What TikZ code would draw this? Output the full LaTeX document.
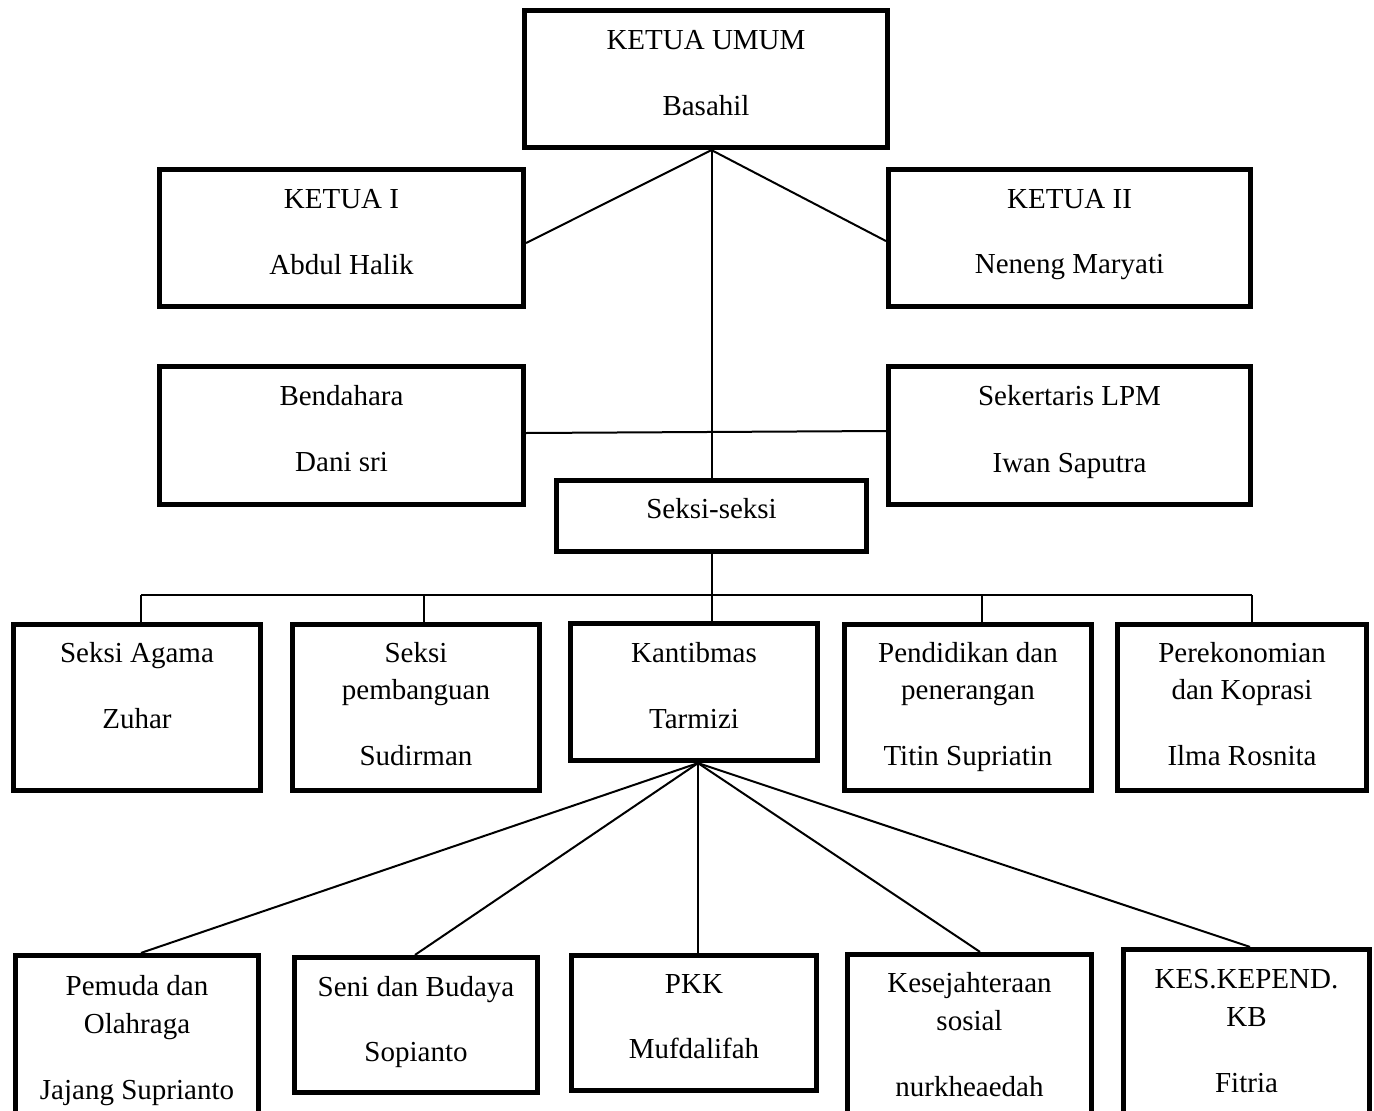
\documentclass[tikz,border=0pt]{standalone}
\usepackage{fontspec}
\setmainfont{Liberation Serif}
\begin{document}
\begin{tikzpicture}[x=1pt,y=-1pt,
  box/.style={draw, line width=5.2pt, inner sep=0pt, rectangle},
  conn/.style={draw, line width=2pt},
  txt/.style={anchor=base, inner sep=0pt, font=\fontsize{29}{35}\selectfont}]
\clip (0,0) rectangle (1374,1111);
\fill[white] (0,0) rectangle (1374,1111);
% boxes
\node[box, minimum width=363pt, minimum height=137pt] (ku) at (706,79) {};
\node[box, minimum width=364pt, minimum height=137pt] (k1) at (341.5,238) {};
\node[box, minimum width=362pt, minimum height=137pt] (k2) at (1069.5,238) {};
\node[box, minimum width=364pt, minimum height=138pt] (ben) at (341.5,435.5) {};
\node[box, minimum width=362pt, minimum height=138pt] (sekr) at (1069.5,435.5) {};
\node[box, minimum width=310pt, minimum height=71pt] (sek) at (711.5,516) {};
\node[box, minimum width=247pt, minimum height=166pt] (agama) at (137,707.5) {};
\node[box, minimum width=247pt, minimum height=166pt] (peb) at (416,707.5) {};
\node[box, minimum width=247pt, minimum height=137pt] (kan) at (694,692) {};
\node[box, minimum width=247pt, minimum height=166pt] (pend) at (968,707.5) {};
\node[box, minimum width=249pt, minimum height=166pt] (perek) at (1242,707.5) {};
\node[box, minimum width=243pt, minimum height=172pt] (pem) at (137,1041.5) {};
\node[box, minimum width=243pt, minimum height=135pt] (seni) at (416,1025) {};
\node[box, minimum width=245pt, minimum height=135pt] (pkk) at (694,1023) {};
\node[box, minimum width=244pt, minimum height=173pt] (kes) at (969.5,1041) {};
\node[box, minimum width=246pt, minimum height=178pt] (kb) at (1246.5,1038.5) {};
% texts
\node[txt] (ku1) at (706,49) {KETUA UMUM};
\node[txt] (ku2) at (706,115) {Basahil};
\node[txt] (k11) at (341.5,208) {KETUA I};
\node[txt] (k12) at (341.5,274) {Abdul Halik};
\node[txt] (k21) at (1069.5,208) {KETUA II};
\node[txt] (k22) at (1069.5,273) {Neneng Maryati};
\node[txt] (ben1) at (341.5,405) {Bendahara};
\node[txt] (ben2) at (341.5,471) {Dani sri};
\node[txt] (sekr1) at (1069.5,405) {Sekertaris LPM};
\node[txt] (sekr2) at (1069.5,472) {Iwan Saputra};
\node[txt] (sek1) at (711.5,518) {Seksi-seksi};
\node[txt] (ag1) at (137,662) {Seksi Agama};
\node[txt] (ag2) at (137,728) {Zuhar};
\node[txt] (pb1) at (416,662) {Seksi};
\node[txt] (pb2) at (416,699) {pembanguan};
\node[txt] (pb3) at (416,765) {Sudirman};
\node[txt] (kn1) at (694,662) {Kantibmas};
\node[txt] (kn2) at (694,728) {Tarmizi};
\node[txt] (pd1) at (968,662) {Pendidikan dan};
\node[txt] (pd2) at (968,699) {penerangan};
\node[txt] (pd3) at (968,765) {Titin Supriatin};
\node[txt] (pr1) at (1242,662) {Perekonomian};
\node[txt] (pr2) at (1242,699) {dan Koprasi};
\node[txt] (pr3) at (1242,765) {Ilma Rosnita};
\node[txt] (pm1) at (137,995) {Pemuda dan};
\node[txt] (pm2) at (137,1033) {Olahraga};
\node[txt] (pm3) at (137,1099) {Jajang Suprianto};
\node[txt] (sn1) at (416,996) {Seni dan Budaya};
\node[txt] (sn2) at (416,1061) {Sopianto};
\node[txt] (pk1) at (694,993) {PKK};
\node[txt] (pk2) at (694,1058) {Mufdalifah};
\node[txt] (ks1) at (969.5,992) {Kesejahteraan};
\node[txt] (ks2) at (969.5,1030) {sosial};
\node[txt] (ks3) at (969.5,1096) {nurkheaedah};
\node[txt] (kb1) at (1246.5,988) {KES.KEPEND.};
\node[txt] (kb2) at (1246.5,1026) {KB};
\node[txt] (kb3) at (1246.5,1092) {Fitria};
% connectors
\coordinate (top) at (sek.north |- ku.south);
\draw[conn] (top) -- (sek.north);
\draw[conn] (top) -- ([yshift=-5pt]k1.east);
\draw[conn] (top) -- ([yshift=-3pt]k2.west);
\draw[conn] ([yshift=2.5pt]ben.east) -- ([yshift=4.5pt]sekr.west);
\coordinate (busL) at (141,595);
\coordinate (d2) at (424,595);
\coordinate (d4) at (982,595);
\coordinate (busR) at (1252,595);
\draw[conn] (busL) -- (busR);
\draw[conn] (sek.south) -- (sek.south |- kan.north);
\draw[conn] (busL) -- (busL |- agama.north);
\draw[conn] (d2) -- (d2 |- peb.north);
\draw[conn] (d4) -- (d4 |- pend.north);
\draw[conn] (busR) -- (busR |- perek.north);
\coordinate (fan) at ([xshift=4pt]kan.south);
\draw[conn] (fan) -- ([xshift=4pt]pem.north);
\draw[conn] (fan) -- ([xshift=-1pt]seni.north);
\draw[conn] (fan) -- ([xshift=4pt]pkk.north);
\draw[conn] (fan) -- ([xshift=10.5pt]kes.north);
\draw[conn] (fan) -- ([xshift=3.5pt]kb.north);
\end{tikzpicture}
\end{document}
